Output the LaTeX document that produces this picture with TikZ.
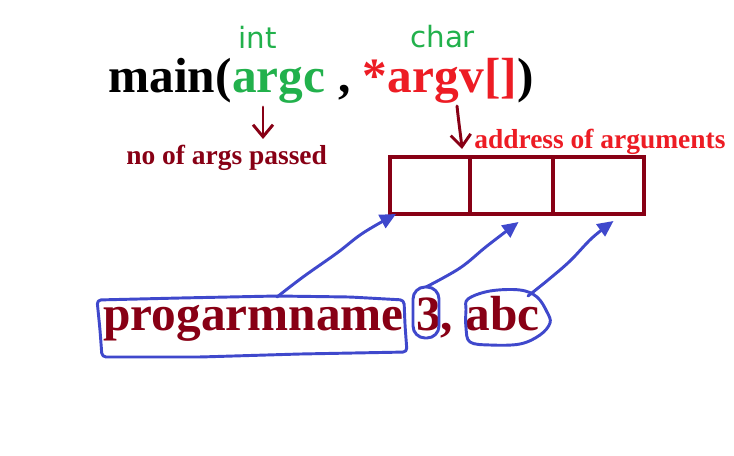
\documentclass[tikz,border=0pt]{standalone}
\usepackage{fontspec}
\setmainfont{Liberation Serif}
\newfontfamily\handfont{DejaVu Sans}
\usetikzlibrary{arrows.meta}
\definecolor{pdark}{RGB}{136,0,21}
\definecolor{pred}{RGB}{237,28,36}
\definecolor{pgreen}{RGB}{34,177,76}
\definecolor{pblue}{RGB}{63,72,204}
\tikzset{
  bigtext/.style={anchor=base west, inner sep=0pt, font=\fontsize{37}{40}\selectfont\bfseries},
  smalltext/.style={anchor=base west, inner sep=0pt, font=\fontsize{20.6}{24}\selectfont\bfseries},
  handtext/.style={anchor=base west, inner sep=0pt, text=pgreen, font=\handfont\fontsize{22}{25}\selectfont},
  cell/.style={draw=pdark, line width=3pt, minimum height=42.75pt, inner sep=0pt},
  redarrow/.style={draw=pdark, line width=2.2pt, line cap=round, line join=round,
     -{Straight Barb[length=9pt,width=15pt,line width=2.2pt]}},
  bluearrow/.style={draw=pblue, line width=2.2pt, line cap=round,
     -{Triangle[length=12pt,width=11pt]}},
  blueline/.style={draw=pblue, line width=2.2pt, line join=round},
}
\begin{document}
\begin{tikzpicture}[x=0.75pt,y=-0.75pt]
\path[use as bounding box, fill=white] (0,0) rectangle (734,456);

% signature
\node[bigtext] (sigA) at (108,93) {main(};
\node[bigtext, text=pgreen] (sigB) at (sigA.base east) {argc};
\node[bigtext] (sigC) at (sigB.base east) {~,~\textcolor{pred}{*}};
\node[bigtext, text=pred] (sigD) at (sigC.base east) {argv};
\node[bigtext] (sigE) at (sigD.base east) {\textcolor{pred}{[]})};
\node[handtext] (int) at (238,49) {int};
\node[handtext] (char) at (410,48) {char};

% labels
\node[smalltext, text=pdark] (noargs) at (126,164) {no of args passed};
\node[smalltext, text=pred] (addr) at (474,148) {address of arguments};

% array cells
\node[cell, minimum width=60pt] (c1) at (430,185.5) {};
\node[cell, minimum width=62.25pt] (c2) at (511.5,185.5) {};
\node[cell, minimum width=68.25pt] (c3) at (598.5,185.5) {};

% dark red arrows
\coordinate (argcs) at (263,107);
\coordinate (argce) at (263,139);
\draw[redarrow] (argcs) -- (argce);
\coordinate (argvs) at (457,106);
\coordinate (argve) at (462,149);
\draw[redarrow] (argvs) .. controls (459,125) and (461,138) .. (argve);

% command line
\node[bigtext, text=pdark] (cmd) at (103,330) {progarmname 3, abc};

% blue outlines
\draw[blueline, rounded corners=3pt] (97,300) -- (180,298) -- (277,296) -- (350,297) -- (404,300)
  -- (405,325) -- (407,352) -- (300,354) -- (200,357) -- (102,357) -- (100,330) -- cycle;
\draw[blueline, rounded corners=9pt] (413,287) rectangle (439,338);
\draw[blueline] plot[smooth cycle, tension=0.6] coordinates {(468,299) (490,291) (520,290) (537,297)
  (547,312) (550,323) (540,335) (520,344) (490,345) (470,342) (466,328) (466,310)};

% blue arrows
\coordinate (p1) at (277,297);
\coordinate (p2) at (426,287);
\coordinate (p3) at (528,296);
\draw[bluearrow] plot[smooth, tension=0.6] coordinates {(p1) (303,277) (337,253) (363,233) ([shift={(8,-2)}]c1.south west)};
\draw[bluearrow] plot[smooth, tension=0.6] coordinates {(p2) (460,268) (487,246) ([shift={(7,6)}]c2.south)};
\draw[bluearrow] plot[smooth, tension=0.6] coordinates {(p3) (548,280) (570,261) (592,238) ([shift={(15,5)}]c3.south)};
\end{tikzpicture}
\end{document}
